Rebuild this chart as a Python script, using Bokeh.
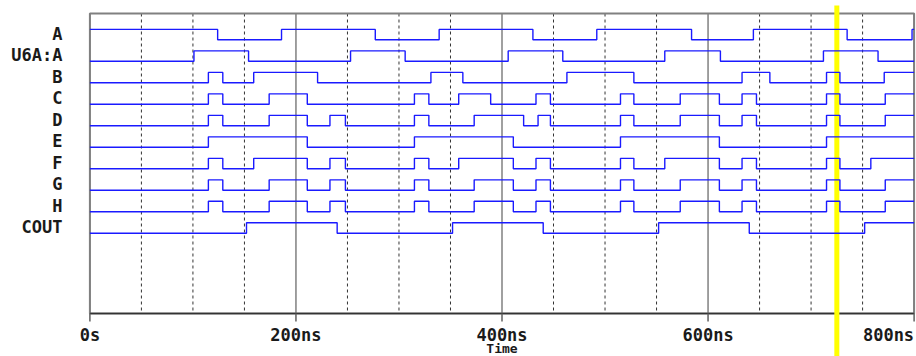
from bokeh.plotting import figure
from bokeh.models import Range1d, LinearAxis, FixedTicker
from bokeh.core.properties import value
from bokeh.embed import file_html
from bokeh.resources import INLINE

# ---------------- data ----------------
signal_names = ["A", "U6A:A", "B", "C", "D", "E", "F", "G", "H", "COUT"]
initial_levels = [1, 0, 0, 0, 0, 0, 0, 0, 0, 0]

edges_A = [124, 186, 277, 339, 430, 492, 584, 644, 735, 798]
edges_U6A_A = [101, 154, 253, 306, 406, 459, 558, 612, 712, 765]
edges_B = [115, 129, 159, 221, 331, 362, 463, 528, 633, 660, 715, 728, 771]
edges_C = [115, 129, 174, 211, 315, 329, 358, 389, 433, 447, 515, 528,
           573, 611, 633, 647, 715, 728, 772]
edges_D = [115, 129, 174, 211, 233, 248, 315, 329, 373, 421, 435, 447,
           515, 528, 573, 611, 633, 647, 715, 728, 772]
edges_E = [115, 211, 315, 411, 515, 611, 715]
edges_F = [115, 129, 159, 211, 233, 248, 315, 329, 358, 411, 433, 447,
           515, 528, 558, 611, 633, 647, 715, 728, 758]
edges_G = [115, 129, 174, 211, 233, 248, 315, 329, 373, 411, 433, 447,
           515, 528, 573, 611, 633, 647, 715, 728, 772]
edges_H = [115, 129, 174, 211, 233, 248, 315, 329, 373, 411, 433, 447,
           515, 528, 573, 611, 633, 647, 715, 728, 772]
edges_COUT = [152, 240, 352, 440, 552, 640, 752]

all_edges = [edges_A, edges_U6A_A, edges_B, edges_C, edges_D, edges_E,
             edges_F, edges_G, edges_H, edges_COUT]

time_start = 0
time_end = 800
cursor_time = 725
tick_values = [0, 200, 400, 600, 800]
tick_labels = ["0s", "200ns", "400ns", "600ns", "800ns"]
minor_grid_values = [50, 100, 150, 250, 300, 350, 450, 500, 550, 650, 700, 750]
x_title = "Time"

# ---------------- layout (pixels) ----------------
W, H = 916, 356
CANVAS_FRAME_LEFT = 70          # drawing frame starts here (names sit left of it)
AREA_LEFT_PX, AREA_RIGHT_PX = 89.4, 913.6
AREA_TOP_PX, AREA_BOTTOM_PX = 13, 313
FIRST_LOW_PX = 39.3
ROW_PITCH = 21.49
AMP_PX = 10.4
LABEL_SHIFT_PX = 6.0
TICK_LEN_PX = 8
TICK_LABEL_PX = 334.5
TITLE_PX = 348
CURSOR_TOP_PX = 5
FONT = "DejaVu Sans Mono"

px_per_ns = (AREA_RIGHT_PX - AREA_LEFT_PX) / (time_end - time_start)


def tx(px):
    return time_start + (px - AREA_LEFT_PX) / px_per_ns


def py(px):
    return (px - FIRST_LOW_PX) / ROW_PITCH


amp = AMP_PX / ROW_PITCH
shift = LABEL_SHIFT_PX / ROW_PITCH
y_top, y_bot = py(AREA_TOP_PX), py(AREA_BOTTOM_PX)

p = figure(width=W, height=H,
           x_range=Range1d(tx(CANVAS_FRAME_LEFT), tx(W)),
           y_range=Range1d(py(H), py(0)),
           output_backend="svg", toolbar_location=None,
           x_axis_location=None, y_axis_location=None,
           min_border_left=CANVAS_FRAME_LEFT, min_border_right=0,
           min_border_top=0, min_border_bottom=0)
p.background_fill_color = "white"
p.border_fill_color = "white"
p.outline_line_color = None
p.xgrid.visible = False
p.ygrid.visible = False

# signal-name axis (real axis, left of the frame)
p.extra_y_ranges = {"rows": Range1d(py(H) + shift, py(0) + shift)}
yax = LinearAxis(y_range_name="rows",
                 ticker=FixedTicker(ticks=list(range(len(signal_names)))),
                 major_label_overrides={i: n for i, n in enumerate(signal_names)},
                 axis_line_color=None, major_tick_line_color=None,
                 minor_tick_line_color=None, major_tick_in=0, major_tick_out=0,
                 major_label_standoff=8,
                 major_label_text_font=FONT,
                 major_label_text_font_style="bold",
                 major_label_text_font_size="17px",
                 major_label_text_color="#1a1a1a")
p.add_layout(yax, "left")

# grid lines
p.segment(x0=minor_grid_values, y0=y_top, x1=minor_grid_values, y1=y_bot,
          line_color="#333333", line_width=1, line_dash="3 3")
p.segment(x0=tick_values, y0=y_top, x1=tick_values, y1=y_bot,
          line_color="#808080", line_width=1.5)

# plot-area border
p.quad(left=time_start, right=time_end, top=y_top, bottom=y_bot,
       fill_color=None, line_color="#808080", line_width=2)

# time axis: line, ticks, labels, title
p.segment(x0=time_start, y0=y_bot, x1=time_end, y1=y_bot,
          line_color="#333333", line_width=1.5)
p.segment(x0=tick_values, y0=y_bot, x1=tick_values,
          y1=py(AREA_BOTTOM_PX + TICK_LEN_PX), line_color="#606060", line_width=1.5)
p.text(x=tick_values[:-1], y=py(TICK_LABEL_PX), text=tick_labels[:-1],
       text_align="center", text_baseline="middle",
       text_font=value(FONT), text_font_style="bold",
       text_font_size="17px", text_color="#1a1a1a")
p.text(x=tick_values[-1:], y=py(TICK_LABEL_PX), text=tick_labels[-1:],
       text_align="right", text_baseline="middle",
       text_font=value(FONT), text_font_style="bold",
       text_font_size="17px", text_color="#1a1a1a")
p.text(x=[(time_start + time_end) / 2], y=py(TITLE_PX), text=[x_title],
       text_align="center", text_baseline="middle",
       text_font=value(FONT), text_font_style="bold",
       text_font_size="13px", text_color="#1a1a1a")

# cursor
p.segment(x0=cursor_time, y0=py(CURSOR_TOP_PX), x1=cursor_time, y1=py(H + 2),
          line_color="#ffff00", line_width=5)

# waveforms
for i, (init, edges) in enumerate(zip(initial_levels, all_edges)):
    xs = [time_start]
    lv = init
    lvls = [lv]
    for t in edges:
        xs += [t, t]
        lvls += [lv, 1 - lv]
        lv = 1 - lv
    xs.append(time_end)
    lvls.append(lv)
    ys = [i - l * amp for l in lvls]
    p.line(xs, ys, line_color="#1a1aff", line_width=1.4)

open("out.html", "w").write(file_html(p, INLINE))
